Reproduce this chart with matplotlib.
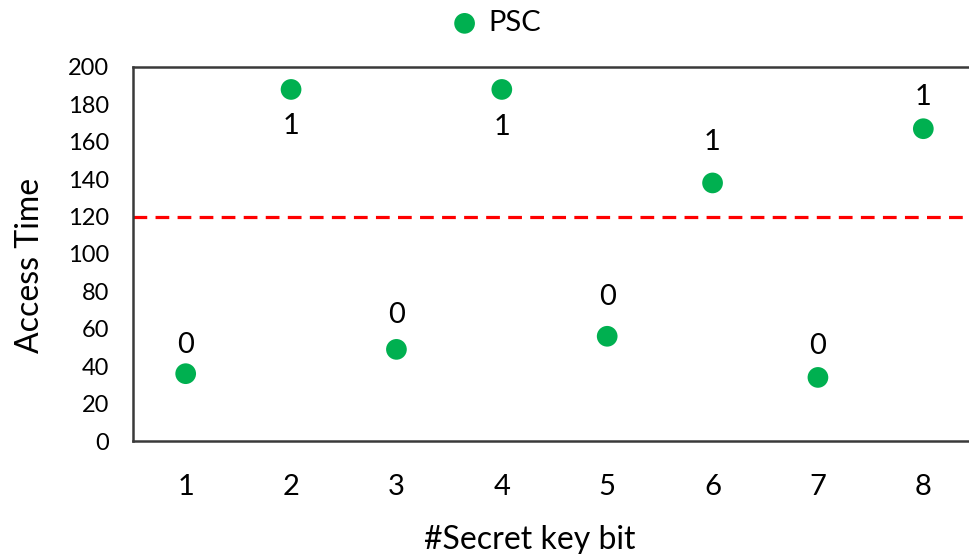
import matplotlib
matplotlib.use("Agg")
import matplotlib.pyplot as plt

# values
key_bits = [1, 2, 3, 4, 5, 6, 7, 8]
access_time = [36, 188, 49, 188, 56, 138, 34, 167]
bit_labels = ["0", "1", "0", "1", "0", "1", "0", "1"]
threshold = 120
y_ticks = [0, 20, 40, 60, 80, 100, 120, 140, 160, 180, 200]

# label placement (pixels from the marker centre, negative = below)
label_offset_px = [29, -37, 34, -38, 39, 41, 31, 32]

plt.rcParams['font.family'] = ['Lato', 'DejaVu Sans']

W, H = 970, 554
PX = 0.72  # points per pixel at dpi 100
fig = plt.figure(figsize=(W / 100, H / 100), dpi=100)
# axes box in pixel coordinates: left 133, right ~976, top 67, bottom 441
ax = fig.add_axes([133 / W, 1 - 441 / H, (976 - 133) / W, (441 - 67) / H])

ax.scatter(key_bits, access_time, s=(20.7 * PX) ** 2, color='#00B050',
           zorder=3, label='PSC', edgecolors='none')
ax.axhline(threshold, color='#FF0000', lw=2.3, ls=(0, (4.3, 2.6)), zorder=2)

for x, y, txt, off in zip(key_bits, access_time, bit_labels, label_offset_px):
    ax.annotate(txt, (x, y), xytext=(0, off * PX),
                textcoords='offset points', ha='center', va='center',
                fontsize=21)

ax.set_xlim(0.5, 8.5)
ax.set_ylim(0, 200)
ax.set_xticks(key_bits)
ax.set_yticks(y_ticks)
ax.tick_params(axis='both', length=0)
ax.tick_params(axis='y', pad=17, labelsize=17)
ax.tick_params(axis='x', pad=24, labelsize=21)

for side in ['left', 'top', 'bottom', 'right']:
    ax.spines[side].set_color('#3a3a3a')
    ax.spines[side].set_linewidth(1.8)

fig.text(30 / W, 1 - 265 / H, 'Access Time', rotation=90, ha='center',
         va='center', fontsize=23)
fig.text(530 / W, 1 - 540 / H, '#Secret key bit', ha='center', va='center',
         fontsize=23)

fig.legend(loc='center left', bbox_to_anchor=(450 / W, 1 - 23 / H),
           frameon=False, fontsize=21, borderpad=0, borderaxespad=0,
           handlelength=1.0, handletextpad=0.3)

fig.savefig('out.png', dpi=100)
